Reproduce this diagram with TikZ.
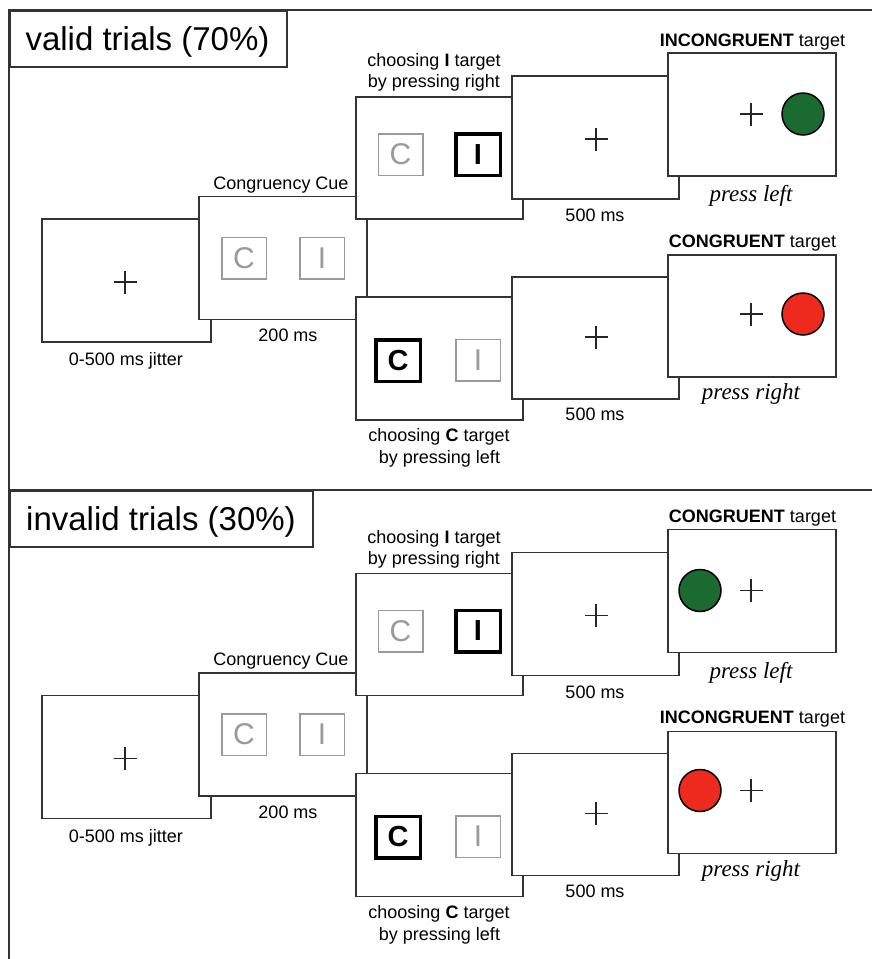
\documentclass[tikz,border=0pt]{standalone}
\usepackage{fontspec}
\setmainfont{Liberation Sans}
\newfontfamily\timesit{Liberation Serif}
\definecolor{framecol}{HTML}{333333}
\definecolor{cuegray}{HTML}{9A9A9A}
\definecolor{tgreen}{HTML}{1B6A32}
\definecolor{tred}{HTML}{EE2A1E}
\tikzset{
 screen/.style={draw=framecol, line width=1.6pt, fill=white, inner sep=0pt, minimum width=168pt, minimum height=123pt},
 graysq/.style={draw=cuegray, line width=1.5pt, minimum width=44.5pt, minimum height=41.5pt, inner sep=0pt, text=cuegray, font=\fontsize{30}{30}\selectfont},
 blacksq/.style={draw=black, line width=3.5pt, minimum width=44.5pt, minimum height=41.5pt, inner sep=0pt, font=\bfseries\fontsize{29}{29}\selectfont},
 lab/.style={inner sep=0pt, anchor=base, font=\fontsize{18}{21}\selectfont},
 presslab/.style={inner sep=0pt, anchor=base, font=\timesit\itshape\fontsize{23}{26}\selectfont},
 headbox/.style={draw=framecol, line width=1.6pt, fill=white, inner sep=0pt, anchor=north west, minimum height=56pt},
 headtext/.style={inner sep=0pt, anchor=base, font=\fontsize{33}{36}\selectfont},
 targetdot/.style={circle, draw=black, line width=1.5pt, minimum size=42pt, inner sep=0pt},
 fixline/.style={line width=1.4pt, draw=black!85},
}
\newcommand\fixcross[1]{\draw[fixline] ([xshift=-11.5pt]#1) -- ([xshift=11.5pt]#1) ([yshift=-11.5pt]#1) -- ([yshift=11.5pt]#1);}
% #1 prefix, #2 shift, #3 upper bold word, #4 upper colour, #5 lower bold word, #6 lower colour, #7 circle x
\newcommand\trialblock[7]{%
\begin{scope}[shift={(0,#2)}]
 % fixation
 \node[screen, minimum width=169pt] (#1A) at (126.5,280.5) {};
 \coordinate (#1xA) at (125,282);
 \fixcross{#1xA}
 \node[lab] (#1Alab) at (126,365.5) {0-500 ms jitter};
 % cue
 \node[screen] (#1B) at (283,258) {};
 \node[graysq] (#1Bc) at (244,258) {C};
 \node[graysq] (#1Bi) at (322,258) {I};
 \node[lab] (#1Blab) at (281,189) {Congruency Cue};
 \node[lab] (#1Bt) at (288,341.5) {200 ms};
 % choice screens
 \node[screen, minimum width=167pt, minimum height=122pt] (#1C) at (439.5,158) {};
 \node[graysq] (#1Cc) at (400.5,154.5) {C};
 \node[blacksq] (#1Ci) at (478,154.5) {I};
 \node[lab] (#1Cl1) at (434,66.5) {choosing \textbf{I} target};
 \node[lab] (#1Cl2) at (434,87.5) {by pressing right};
 \node[screen, minimum width=167pt] (#1K) at (439.5,358.5) {};
 \node[blacksq] (#1Kc) at (398,360.5) {C};
 \node[graysq] (#1Ki) at (478,360) {I};
 \node[lab] (#1Kl1) at (439,441.7) {choosing \textbf{C} target};
 \node[lab] (#1Kl2) at (439.5,463.5) {by pressing left};
 % delay screens
 \node[screen, minimum width=167pt] (#1D) at (595.5,137.5) {};
 \coordinate (#1xD) at (596,139);
 \fixcross{#1xD}
 \node[lab] (#1Dt) at (595,221.5) {500 ms};
 \node[screen, minimum width=167pt, minimum height=122pt] (#1L) at (595.5,338) {};
 \coordinate (#1xL) at (596,337);
 \fixcross{#1xL}
 \node[lab] (#1Lt) at (595,420.5) {500 ms};
 % target screens
 \node[screen] (#1E) at (752,114.5) {};
 \coordinate (#1xE) at (751,114);
 \fixcross{#1xE}
 \node[targetdot, fill=#4] (#1Ed) at (#7,114) {};
 \node[lab] (#1El) at (752.5,46) {\textbf{#3} target};
 \node[presslab] (#1Ep) at (751,201.5) {press left};
 \node[screen, minimum height=122pt] (#1M) at (752,316) {};
 \coordinate (#1xM) at (751,314);
 \fixcross{#1xM}
 \node[targetdot, fill=#6] (#1Md) at (#7,314) {};
 \node[lab] (#1Ml) at (752.5,247) {\textbf{#5} target};
 \node[presslab] (#1Mp) at (751,399.5) {press right};
\end{scope}}
\begin{document}
\begin{tikzpicture}[x=1pt,y=-1pt]
 \useasboundingbox[fill=white] (0,0) rectangle (872,959);
 % outer frame and divider
 \draw[framecol, line width=1.6pt] (873,10) -- (9,10) -- (9,960);
 \draw[framecol, line width=1.6pt] (9,490) -- (873,490);
 % section headings
 \node[headbox, minimum width=277pt] (vhead) at (9,10) {};
 \node[headtext] (vheadt) at (147.5,50) {valid trials (70\%)};
 \node[headbox, minimum width=303pt] (ihead) at (9,490) {};
 \node[headtext] (iheadt) at (161,530) {invalid trials (30\%)};
 \trialblock{v}{0}{INCONGRUENT}{tgreen}{CONGRUENT}{tred}{803}
 \trialblock{w}{476.5}{CONGRUENT}{tgreen}{INCONGRUENT}{tred}{700}
\end{tikzpicture}
\end{document}
